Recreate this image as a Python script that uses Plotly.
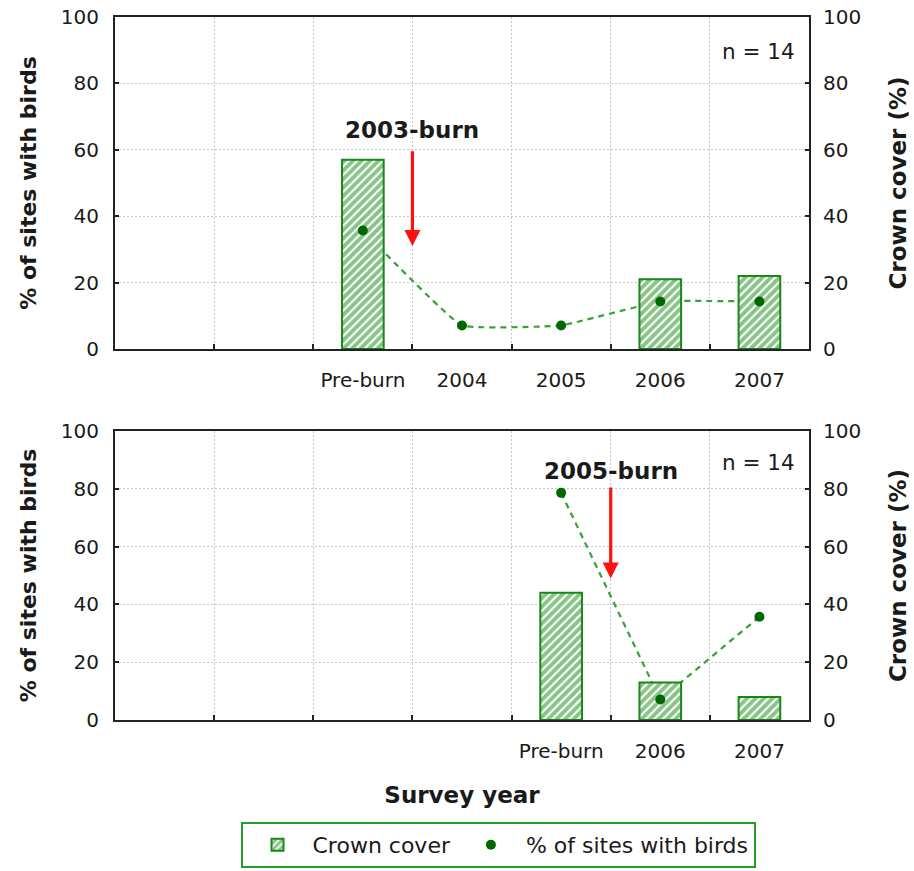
import plotly.graph_objects as go

# ---------------- data ----------------
N_SLOTS = 7
top_labels = ["Pre-burn", "2004", "2005", "2006", "2007"]
top_crown = [57, None, None, 21, 22]
top_birds = [35.7, 7.1, 7.1, 14.3, 14.3]

bot_labels = ["Pre-burn", "2006", "2007"]
bot_crown = [44, 13, 8]
bot_birds = [78.6, 7.1, 35.7]

y_ticks = [0, 20, 40, 60, 80, 100]
burn_labels = ["2003-burn", "2005-burn"]
n_label = "n = 14"

# ---------------- styles ----------------
FONT = "DejaVu Sans"
TXT = "#1a1a1a"
BAR_GREEN = "#168816"
LINE_GREEN = "#35a335"
DOT_GREEN = "#006800"
GRID = "#c8c8c8"


def pos(labels):
    start = N_SLOTS - len(labels)
    return [start + i for i in range(len(labels))]


top_x = pos(top_labels)
bot_x = pos(bot_labels)

fig = go.Figure()

bar_style = dict(
    color="white",
    line=dict(color=BAR_GREEN, width=2),
    pattern=dict(shape="/", fgcolor=BAR_GREEN, bgcolor="white", size=6, solidity=0.65),
)

# top panel
fig.add_trace(go.Scatter(x=top_x, y=top_birds, mode="lines", xaxis="x", yaxis="y",
                         line=dict(color=LINE_GREEN, width=2.2, dash="6px,5px", shape="spline", smoothing=0.3),
                         showlegend=False, hoverinfo="skip"))
fig.add_trace(go.Bar(x=top_x, y=top_crown, width=0.42, xaxis="x", yaxis="y2",
                     marker=bar_style, name="Crown cover", showlegend=True))
fig.add_trace(go.Scatter(x=top_x, y=top_birds, mode="markers", xaxis="x", yaxis="y2",
                         marker=dict(color=DOT_GREEN, size=10), name="% of sites with birds",
                         showlegend=True))

# bottom panel
fig.add_trace(go.Scatter(x=bot_x, y=bot_birds, mode="lines", xaxis="x2", yaxis="y3",
                         line=dict(color=LINE_GREEN, width=2.2, dash="6px,5px"),
                         showlegend=False, hoverinfo="skip"))
fig.add_trace(go.Bar(x=bot_x, y=bot_crown, width=0.42, xaxis="x2", yaxis="y4",
                     marker=bar_style, name="Crown cover", showlegend=False))
fig.add_trace(go.Scatter(x=bot_x, y=bot_birds, mode="markers", xaxis="x2", yaxis="y4",
                         marker=dict(color=DOT_GREEN, size=10), name="% of sites with birds",
                         showlegend=False))

boundaries = [i + 0.5 for i in range(N_SLOTS - 1)]

def xaxis(labels, xs, anchor, title=None):
    d = dict(
        range=[-0.5, N_SLOTS - 0.5], anchor=anchor,
        tickmode="array", tickvals=xs, ticktext=labels, ticks="",
        showgrid=False, zeroline=False,
        showline=True, linecolor="#222", linewidth=2, mirror=True,
        tickfont=dict(family=FONT, size=20, color=TXT),
        ticklabelstandoff=12,
        minor=dict(tickmode="array", tickvals=boundaries, ticks="inside", ticklen=5,
                   tickcolor="#222", tickwidth=2, showgrid=True, gridcolor=GRID,
                   griddash="2px,2px", gridwidth=1.4),
        automargin=False,
    )
    if title:
        d["title"] = dict(text=title, font=dict(family=FONT, size=23, color=TXT, weight="bold"),
                          standoff=25)
    return d


def yleft(domain, anchor):
    return dict(
        domain=domain, anchor=anchor, range=[0, 100], tickvals=y_ticks,
        showgrid=True, gridcolor=GRID, griddash="2px,2px", gridwidth=1.4, zeroline=False,
        showline=True, linecolor="#222", linewidth=2,
        ticks="inside", ticklen=4, tickwidth=2, tickcolor="#222",
        tickfont=dict(family=FONT, size=20, color=TXT), ticklabelstandoff=10,
        title=dict(text="% of sites with birds",
                   font=dict(family=FONT, size=22, color=TXT, weight="bold"), standoff=18),
        automargin=False,
    )


def yright(overlay, anchor):
    return dict(
        overlaying=overlay, anchor=anchor, side="right", range=[0, 100], tickvals=y_ticks,
        showgrid=False, zeroline=False,
        showline=True, linecolor="#222", linewidth=2,
        ticks="inside", ticklen=4, tickwidth=2, tickcolor="#222",
        tickfont=dict(family=FONT, size=20, color=TXT), ticklabelstandoff=8,
        title=dict(text="Crown cover (%)",
                   font=dict(family=FONT, size=23, color=TXT, weight="bold"), standoff=30),
        automargin=False,
    )


top_dom = [(720 - 349) / 703, 1.0]
bot_dom = [0.0, (720 - 431) / 703]

annotations = [
    dict(text=burn_labels[0], x=top_x[0] + 0.5, y=66, xref="x", yref="y", showarrow=False,
         font=dict(family=FONT, size=23, color=TXT, weight="bold")),
    dict(text="", x=top_x[0] + 0.5, y=31, ax=top_x[0] + 0.5, ay=60, xref="x", yref="y",
         axref="x", ayref="y", showarrow=True, arrowhead=2, arrowsize=1.0, arrowwidth=3.2,
         arrowcolor="#ff1010", standoff=0, startstandoff=0),
    dict(text=burn_labels[1], x=bot_x[0] + 0.5, y=86, xref="x2", yref="y3", showarrow=False,
         font=dict(family=FONT, size=23, color=TXT, weight="bold")),
    dict(text="", x=bot_x[0] + 0.5, y=49, ax=bot_x[0] + 0.5, ay=81, xref="x2", yref="y3",
         axref="x2", ayref="y3", showarrow=True, arrowhead=2, arrowsize=1.0, arrowwidth=3.2,
         arrowcolor="#ff1010", standoff=0, startstandoff=0),
    dict(text=n_label, x=0.983, y=89.5, xref="x domain", yref="y", xanchor="right",
         showarrow=False, font=dict(family=FONT, size=21.5, color=TXT)),
    dict(text=n_label, x=0.983, y=89, xref="x2 domain", yref="y3", xanchor="right",
         showarrow=False, font=dict(family=FONT, size=21.5, color=TXT)),
]

fig.update_layout(
    width=914, height=871,
    margin=dict(l=115, r=105, t=17, b=151),
    paper_bgcolor="white", plot_bgcolor="white",
    font=dict(family=FONT, color=TXT),
    barmode="overlay",
    xaxis=xaxis(top_labels, top_x, "y"),
    yaxis=yleft(top_dom, "x"),
    yaxis2=yright("y", "x"),
    xaxis2=xaxis(bot_labels, bot_x, "y3", title="Survey year"),
    yaxis3=yleft(bot_dom, "x2"),
    yaxis4=yright("y3", "x2"),
    annotations=annotations,
    showlegend=True,
    legend=dict(orientation="h", xref="container", x=498 / 914, xanchor="center",
                yref="container", y=1 - 822 / 871, yanchor="top",
                bordercolor="#2a9a2a", borderwidth=2, bgcolor="white",
                font=dict(family=FONT, size=22, color=TXT), itemwidth=60,
                traceorder="normal"),
)

fig.write_html("out.html")
